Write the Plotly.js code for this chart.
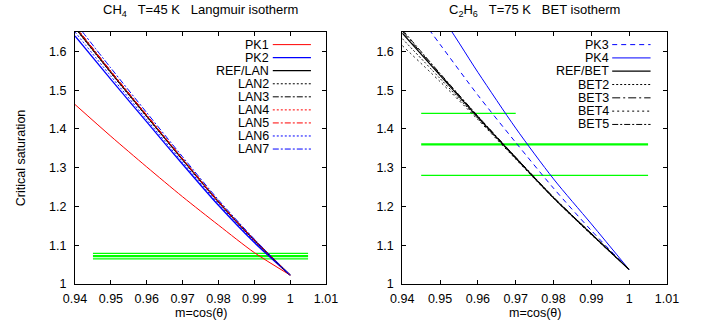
<!DOCTYPE html>
<html><head><meta charset="utf-8">
<script src="https://cdn.plot.ly/plotly-3.0.1.min.js"></script>
<style>html,body{margin:0;padding:0;background:#fff}#chart{width:707px;height:327px}</style>
</head><body><div id="chart"></div>
<script>
// ---- data ----
const xs = [0.94, 0.95, 0.96, 0.97, 0.98, 0.99, 1.0];

// Left panel: CH4, Langmuir
const PK1   = [1.463, 1.381, 1.302, 1.225, 1.152, 1.081, 1.023];
const PK2   = [1.640, 1.528, 1.418, 1.309, 1.203, 1.107, 1.023];
const REF_LAN = [1.662, 1.546, 1.433, 1.321, 1.212, 1.113, 1.023];
const LAN2  = [1.660, 1.544, 1.431, 1.320, 1.211, 1.112, 1.023];
const LAN3  = [1.665, 1.549, 1.435, 1.323, 1.213, 1.114, 1.023];
const LAN4  = [1.663, 1.547, 1.434, 1.322, 1.212, 1.113, 1.023];
const LAN5  = [1.666, 1.549, 1.436, 1.323, 1.213, 1.114, 1.023];
const LAN6  = [1.650, 1.536, 1.424, 1.314, 1.207, 1.110, 1.023];
const LAN7  = [1.675, 1.557, 1.442, 1.328, 1.217, 1.116, 1.023];

// Right panel: C2H6, BET
const PK3   = [1.750, 1.618, 1.487, 1.365, 1.247, 1.138, 1.037];
const PK4   = [1.800, 1.694, 1.546, 1.402, 1.271, 1.155, 1.037];
const REF_BET = [1.647, 1.538, 1.430, 1.325, 1.222, 1.129, 1.037];
const BET2  = [1.633, 1.530, 1.427, 1.324, 1.222, 1.128, 1.037];
const BET3  = [1.652, 1.541, 1.432, 1.326, 1.223, 1.130, 1.037];
const BET4  = [1.615, 1.522, 1.424, 1.322, 1.221, 1.127, 1.037];
const BET5  = [1.656, 1.543, 1.433, 1.327, 1.224, 1.130, 1.037];

// green reference levels
const greenL_y = [1.079, 1.072, 1.065];
const greenL_x0 = [0.945, 0.945, 0.945];
const greenL_x1 = [1.005, 1.005, 1.005];
const greenR_y = [1.44, 1.36, 1.28];
const greenR_x0 = [0.945, 0.945, 0.945];
const greenR_x1 = [0.970, 1.005, 1.005];

const xTickVals = [0.94, 0.95, 0.96, 0.97, 0.98, 0.99, 1.0, 1.01];
const xTickText = ["0.94", "0.95", "0.96", "0.97", "0.98", "0.99", "1", "1.01"];
const yTickVals = [1, 1.1, 1.2, 1.3, 1.4, 1.5, 1.6];
const yTickText = ["1", "1.1", "1.2", "1.3", "1.4", "1.5", "1.6"];

// ---- styles ----
const DOT = "2px,2px";
const DASHDOT = "6px,2px,2px,2px";
const DASH = "5px,4px";

const leftSeries = [
  {name: "PK1", y: PK1, color: "#ff0000", dash: "solid", w: 1},
  {name: "PK2", y: PK2, color: "#0000ff", dash: "solid", w: 1.3},
  {name: "REF/LAN", y: REF_LAN, color: "#000000", dash: "solid", w: 1.2},
  {name: "LAN2", y: LAN2, color: "#000000", dash: DOT, w: 1},
  {name: "LAN3", y: LAN3, color: "#000000", dash: DASHDOT, w: 1},
  {name: "LAN4", y: LAN4, color: "#ff0000", dash: DOT, w: 1},
  {name: "LAN5", y: LAN5, color: "#ff0000", dash: DASHDOT, w: 1},
  {name: "LAN6", y: LAN6, color: "#0000ff", dash: DOT, w: 1},
  {name: "LAN7", y: LAN7, color: "#0000ff", dash: DASHDOT, w: 1}
];
const rightSeries = [
  {name: "PK3", y: PK3, color: "#0000ff", dash: DASH, w: 1},
  {name: "PK4", y: PK4, color: "#0000ff", dash: "solid", w: 1},
  {name: "REF/BET", y: REF_BET, color: "#000000", dash: "solid", w: 1.2},
  {name: "BET2", y: BET2, color: "#000000", dash: DOT, w: 1},
  {name: "BET3", y: BET3, color: "#000000", dash: "8px,3px,2px,3px", w: 1},
  {name: "BET4", y: BET4, color: "#000000", dash: "2px,3px", w: 1},
  {name: "BET5", y: BET5, color: "#000000", dash: DASHDOT, w: 1}
];
const greenWidthsL = [1.3, 2.2, 1.3];
const greenWidthsR = [1.3, 2.2, 1.3];
const GREEN = "#00ff00";

const traces = [];
greenL_y.forEach((v, i) => traces.push({
  x: [greenL_x0[i], greenL_x1[i]], y: [v, v], xaxis: "x", yaxis: "y",
  mode: "lines", line: {color: GREEN, width: greenWidthsL[i]}, showlegend: false, hoverinfo: "skip"
}));
greenR_y.forEach((v, i) => traces.push({
  x: [greenR_x0[i], greenR_x1[i]], y: [v, v], xaxis: "x2", yaxis: "y2",
  mode: "lines", line: {color: GREEN, width: greenWidthsR[i]}, showlegend: false, hoverinfo: "skip"
}));
function addSeries(list, xa, ya) {
  list.forEach(s => traces.push({
    x: xs, y: s.y, xaxis: xa, yaxis: ya, name: s.name, mode: "lines",
    line: {color: s.color, width: s.w, dash: s.dash, shape: "spline", smoothing: 0.8},
    showlegend: false
  }));
}
addSeries(leftSeries, "x", "y");
addSeries(rightSeries, "x2", "y2");

const FAM = "Liberation Sans, Arial, sans-serif";
const FONT = {family: FAM, size: 13, color: "#000"};
const KEYFONT = {family: FAM, size: 12.5, color: "#000"};
const TICKFONT = {family: FAM, size: 12.5, color: "#000"};
const AXFONT = {family: FAM, size: 12.5, color: "#000"};
const annotations = [];
const shapes = [];
// gnuplot-style key: right-aligned label, sample line to its right
function addKey(list, xr, yr, textX, s0, s1, yTop, step) {
  list.forEach((s, i) => {
    const yy = yTop - i * step;
    annotations.push({xref: xr + " domain", yref: yr + " domain", x: textX, y: yy,
      text: s.name, showarrow: false, xanchor: "right", yanchor: "middle", font: KEYFONT,
      borderpad: 0});
    shapes.push({type: "line", xref: xr + " domain", yref: yr + " domain",
      x0: s0, x1: s1, y0: yy, y1: yy, line: {color: s.color, width: s.w, dash: s.dash}});
  });
}
addKey(leftSeries, "x", "y", 0.778, 0.788, 0.940, 0.950, 0.0518);
addKey(rightSeries, "x2", "y2", 0.784, 0.793, 0.938, 0.950, 0.0528);

const NB = "\u00a0\u00a0\u00a0";
annotations.push({xref: "x domain", yref: "paper", x: 0.5, y: 0.968, yanchor: "middle",
  text: "CH<sub>4</sub>" + NB + "T=45 K" + NB + "Langmuir isotherm", showarrow: false, font: FONT});
annotations.push({xref: "x2 domain", yref: "paper", x: 0.5, y: 0.968, yanchor: "middle",
  text: "C<sub>2</sub>H<sub>6</sub>" + NB + "T=75 K" + NB + "BET isotherm", showarrow: false, font: FONT});
// x-axis titles
["x", "x2"].forEach(ax => annotations.push({xref: ax + " domain", yref: "paper", x: 0.5, y: 0.042,
  yanchor: "middle", text: "m=cos(\u03b8)", showarrow: false, font: AXFONT, borderpad: 0}));

function xAxis(domain, anchor) {
  return {domain: domain, anchor: anchor, range: [0.94, 1.01], tickvals: xTickVals, ticktext: xTickText,
    ticks: "inside", ticklen: 4, tickwidth: 1, tickcolor: "#000", showline: true, linecolor: "#000",
    linewidth: 1, mirror: "ticks", showgrid: false, zeroline: false, tickfont: TICKFONT,
    automargin: false, ticklabelstandoff: 3};
}
function yAxis(domain, anchor, withTitle) {
  const a = {domain: domain, anchor: anchor, range: [1, 1.65], tickvals: yTickVals, ticktext: yTickText,
    ticks: "inside", ticklen: 4, tickwidth: 1, tickcolor: "#000", showline: true, linecolor: "#000",
    linewidth: 1, mirror: "ticks", showgrid: false, zeroline: false, tickfont: TICKFONT,
    automargin: false, ticklabelstandoff: 5};
  if (withTitle) a.title = {text: "Critical saturation", font: AXFONT, standoff: 20};
  return a;
}

const layout = {
  width: 707, height: 327, margin: {l: 0, r: 0, t: 0, b: 0},
  paper_bgcolor: "#fff", plot_bgcolor: "#fff", showlegend: false,
  xaxis: xAxis([0.1061, 0.4611], "y"),
  yaxis: yAxis([0.1315, 0.9021], "x", true),
  xaxis2: xAxis([0.569, 0.9434], "y2"),
  yaxis2: yAxis([0.1315, 0.9021], "x2", false),
  annotations: annotations, shapes: shapes, font: FONT
};
Plotly.newPlot("chart", traces, layout, {staticPlot: true, displayModeBar: false});
</script></body></html>
